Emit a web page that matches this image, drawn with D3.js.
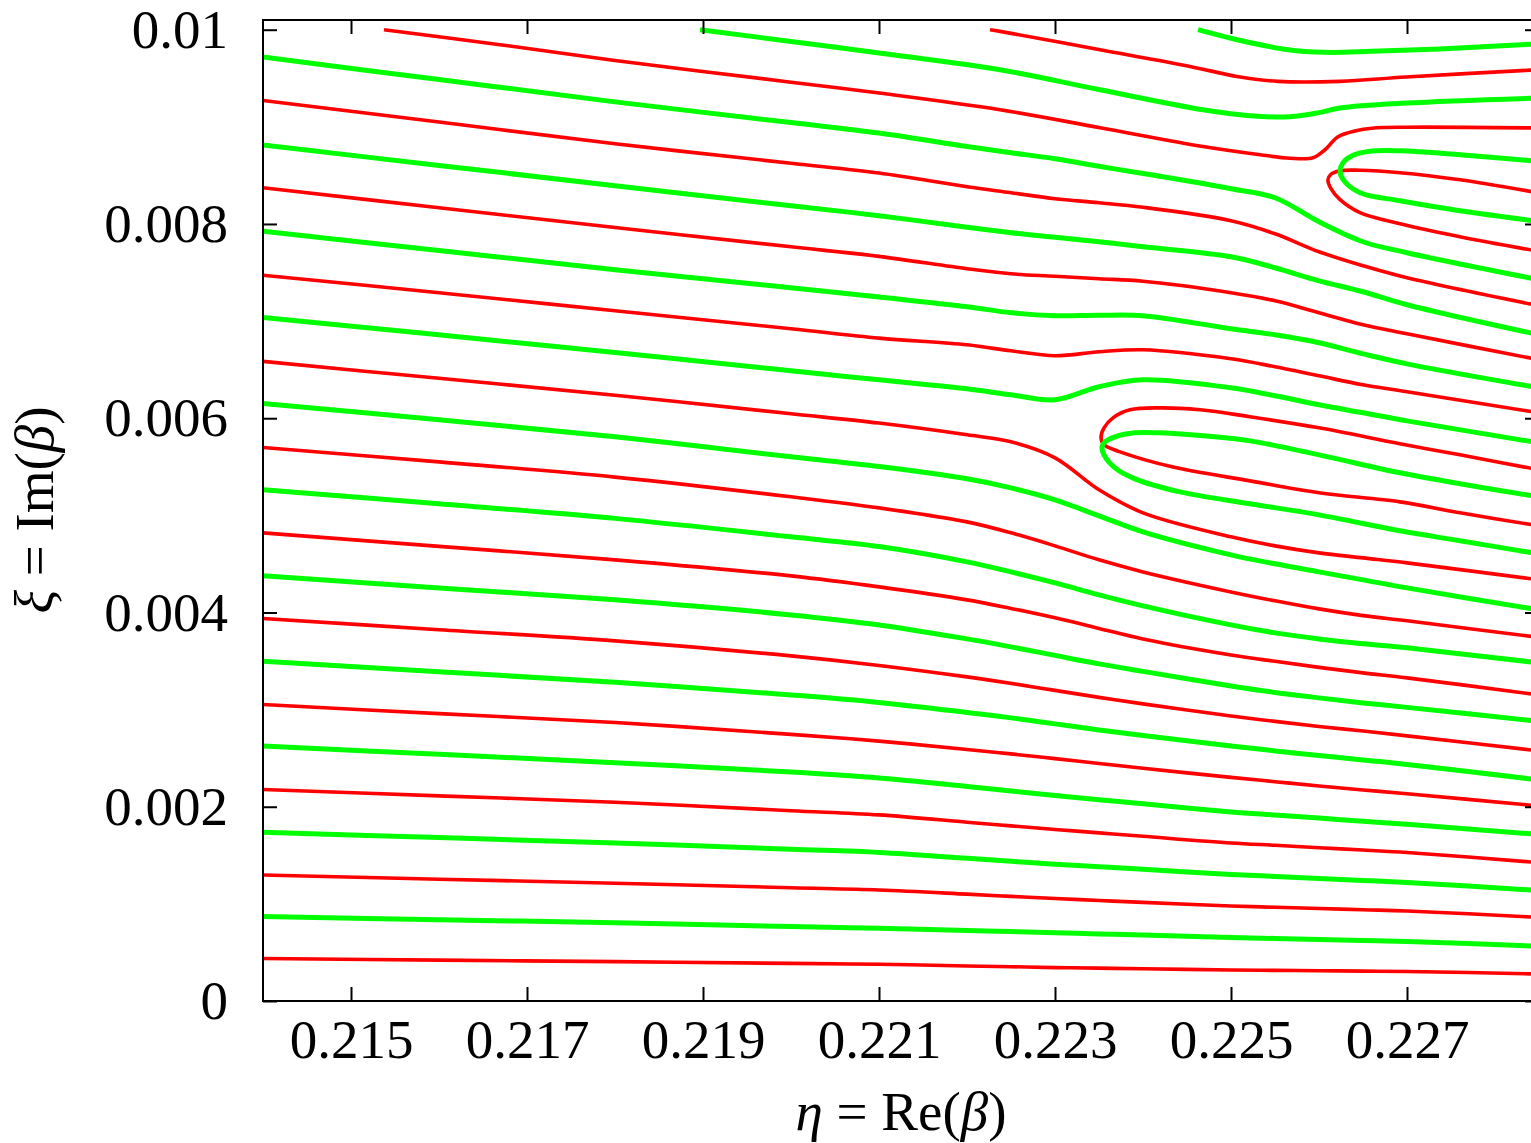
<!DOCTYPE html>
<html>
<head>
<meta charset="utf-8">
<script src="https://cdn.jsdelivr.net/npm/d3@7"></script>
<style>
  html, body { margin: 0; padding: 0; background: #fff; overflow: hidden; }
  svg { display: block; }
</style>
</head>
<body>
<div id="chart"></div>
<script>
// eta sample positions shared by the full-width curves
var etaGrid = [0.214, 0.216, 0.218, 0.220, 0.221, 0.222, 0.2225, 0.223, 0.2235, 0.224, 0.225, 0.2255, 0.226, 0.2265, 0.227, 0.2285];

// xi values of the red curves entering from the left edge (top to bottom)
var redGrid = [
  [.009271,.009049,.008826,.008625,.008524,.008383,.008322,.008260,.008219,.008172,.008033,.007899,.007714,.007570,.007446,.007158],
  [.008373,.008167,.007964,.007765,.007666,.007539,.007487,.007462,.007436,.007410,.007292,.007209,.007086,.006962,.006869,.006602],
  [.007472,.007292,.007106,.006921,.006825,.006756,.006694,.006643,.006684,.006705,.006612,.006530,.006437,.006344,.006272,.006056],
  [.006585,.006411,.006237,.006046,.005950,.005829,.005757,.005592,.005263,.005026,.004779,.004686,.004614,.004562,.004511,.004336],
  [.005698,.005551,.005394,.005191,.005077,.004933,.004820,.004686,.004542,.004418,.004212,.004120,.004037,.003968,.003914,.003744],
  [.004820,.004681,.004542,.004377,.004264,.004130,.004042,.003945,.003836,.003728,.003563,.003497,.003435,.003378,.003327,.003151],
  [.003938,.003823,.003708,.003553,.003455,.003337,.003270,.003198,.003126,.003059,.002935,.002879,.002827,.002779,.002730,.002575],
  [.003052,.002959,.002867,.002745,.002676,.002590,.002544,.002495,.002446,.002397,.002302,.002258,.002214,.002173,.002134,.002008],
  [.002178,.002112,.002046,.001959,.001916,.001841,.001803,.001766,.001731,.001696,.001627,.001603,.001578,.001554,.001529,.001425],
  [.001298,.001254,.001212,.001166,.001143,.001100,.001077,.001055,.001035,.001015,.000978,.000965,.000953,.000939,.000927,.000861],
  [.000438,.000421,.000405,.000387,.000378,.000361,.000353,.000344,.000338,.000332,.000319,.000315,.000312,.000308,.000304,.000278]
];

// xi values of the green curves entering from the left edge
var greenGrid = [
  [.009718,.009487,.009257,.009044,.008936,.008798,.008734,.008672,.008594,.008520,.008363,.008270,.008023,.007817,.007704,.007426],
  [.008812,.008603,.008394,.008188,.008085,.007966,.007910,.007863,.007817,.007765,.007662,.007549,.007415,.007302,.007168,.006859],
  [.007925,.007727,.007529,.007343,.007247,.007148,.007086,.007055,.007060,.007055,.006921,.006859,.006777,.006663,.006560,.006313],
  [.007038,.006859,.006677,.006488,.006396,.006303,.006241,.006190,.006324,.006396,.006313,.006231,.006138,.006056,.005973,.005747],
  [.006152,.005984,.005809,.005603,.005503,.005376,.005283,.005160,.004995,.004830,.004593,.004501,.004418,.004336,.004253,.004027],
  [.005265,.005119,.004969,.004779,.004679,.004521,.004418,.004305,.004181,.004068,.003872,.003790,.003728,.003677,.003636,.003481],
  [.004377,.004253,.004130,.003975,.003872,.003728,.003646,.003558,.003471,.003394,.003244,.003177,.003121,.003069,.003023,.002879],
  [.003498,.003389,.003281,.003151,.003074,.002971,.002915,.002853,.002791,.002734,.002626,.002575,.002528,.002482,.002436,.002276],
  [.002626,.002540,.002453,.002358,.002297,.002209,.002163,.002116,.002073,.002031,.001947,.001915,.001883,.001851,.001819,.001715],
  [.001737,.001683,.001627,.001562,.001529,.001469,.001438,.001408,.001382,.001356,.001303,.001282,.001262,.001241,.001220,.001138],
  [.000870,.000837,.000805,.000767,.000749,.000726,.000715,.000703,.000691,.000679,.000654,.000644,.000633,.000623,.000613,.000563]
];

// red curves starting at the top edge and the two red hairpins, as [eta, xi]
var redBranches = [
  [[0.215375,0.01],[0.216693,0.009846],[0.217977,0.009685],[0.220,0.009460],[0.221,0.009348],[0.222375,0.009176],[0.223511,0.008991],[0.224682,0.008798],[0.225330,0.008713],[0.225670,0.008677],[0.225932,0.008682],[0.226068,0.008764],[0.226216,0.008898],[0.226420,0.008960],[0.226602,0.008986],[0.227,0.008996],[0.2285,0.008988]],
  [[0.222261,0.01],[0.222375,0.009983],[0.223511,0.009794],[0.224534,0.009622],[0.225068,0.009519],[0.225534,0.009468],[0.226239,0.009468],[0.226989,0.009513],[0.2285,0.009588]],
  [[0.2285,0.008319],[0.227602,0.008455],[0.226920,0.008528],[0.226466,0.008553],[0.226239,0.008548],[0.226136,0.008512],[0.226102,0.008455],[0.226136,0.008363],[0.226239,0.008250],[0.226466,0.008116],[0.226920,0.008002],[0.227602,0.007868],[0.2285,0.007717]],
  [[0.2285,0.005469],[0.227602,0.005623],[0.226920,0.005737],[0.226,0.005901],[0.225216,0.006015],[0.224648,0.006087],[0.224193,0.006107],[0.223852,0.006087],[0.223659,0.006004],[0.223557,0.005901],[0.223523,0.005798],[0.223557,0.005726],[0.223739,0.005654],[0.224330,0.005500],[0.225216,0.005355],[0.226,0.005232],[0.226920,0.005139],[0.227602,0.005026],[0.2285,0.004892]]
];

// green curves starting at the top edge and the two green hairpins
var greenBranches = [
  [[0.218966,0.01],[0.220,0.009879],[0.221,0.009760],[0.222375,0.009588],[0.223511,0.009382],[0.224682,0.009176],[0.225216,0.009115],[0.225670,0.009104],[0.226,0.009146],[0.226239,0.009194],[0.226989,0.009245],[0.2285,0.009297]],
  [[0.224625,0.01],[0.225068,0.009897],[0.225648,0.009794],[0.226068,0.009767],[0.226602,0.009777],[0.227375,0.009802],[0.2285,0.009856]],
  [[0.2285,0.008644],[0.227602,0.008713],[0.226920,0.008754],[0.226580,0.008749],[0.226375,0.008703],[0.226273,0.008631],[0.226239,0.008538],[0.226284,0.008445],[0.226466,0.008322],[0.226920,0.008239],[0.227602,0.008136],[0.2285,0.008026]],
  [[0.2285,0.005191],[0.227602,0.005325],[0.226920,0.005438],[0.226,0.005623],[0.225216,0.005767],[0.224750,0.005814],[0.224193,0.005850],[0.223909,0.005850],[0.223682,0.005809],[0.223568,0.005757],[0.223534,0.005706],[0.223557,0.005623],[0.223682,0.005489],[0.223909,0.005376],[0.224420,0.005242],[0.225216,0.005119],[0.226,0.005005],[0.226920,0.004841],[0.227602,0.004738],[0.2285,0.004604]]
];

var xTicks = [0.215, 0.217, 0.219, 0.221, 0.223, 0.225, 0.227];
var yTicks = [0, 0.002, 0.004, 0.006, 0.008, 0.01];

// set the dimensions and margins of the graph
var margin = {top: 20, left: 263},
    width = 1276,
    height = 981;
var fontFamily = '"Liberation Serif", "Times New Roman", Times, serif';

var svg = d3.select("#chart")
  .append("svg")
    .attr("width", 1531)
    .attr("height", 1143)
  .append("g")
    .attr("transform", "translate(" + margin.left + "," + margin.top + ")");

var x = d3.scaleLinear().domain([0.214, 0.2285]).range([0, width]);
var y = d3.scaleLinear().domain([0, 0.0101]).range([height, 0]);

svg.append("clipPath").attr("id", "plotclip")
  .append("rect").attr("width", width).attr("height", height);

var line = d3.line()
  .x(function(d) { return x(d[0]); })
  .y(function(d) { return y(d[1]); })
  .curve(d3.curveCatmullRom.alpha(0.5));

function onGrid(vals) {
  return etaGrid.map(function(e, i) { return [e, vals[i]]; });
}

var plot = svg.append("g").attr("clip-path", "url(#plotclip)");

var reds = redGrid.map(onGrid).concat(redBranches);
var greens = greenGrid.map(onGrid).concat(greenBranches);

plot.selectAll("path.red")
  .data(reds)
  .enter().append("path")
    .attr("class", "red")
    .attr("d", line)
    .attr("fill", "none")
    .attr("stroke", "#ff0000")
    .attr("stroke-width", 3.6);

plot.selectAll("path.green")
  .data(greens)
  .enter().append("path")
    .attr("class", "green")
    .attr("d", line)
    .attr("fill", "none")
    .attr("stroke", "#00ff00")
    .attr("stroke-width", 5);

// axes with inward ticks on all four sides
function styleAxis(g) {
  g.select(".domain").remove();
  g.selectAll("line").attr("stroke-width", 2);
  g.attr("font-family", fontFamily).attr("font-size", 55);
  g.selectAll("text").attr("fill", "#000");
}

svg.append("g")
    .attr("transform", "translate(0," + height + ")")
    .call(d3.axisBottom(x).tickValues(xTicks).tickFormat(d3.format(".3f"))
      .tickSizeInner(-14).tickSizeOuter(0).tickPadding(18))
    .call(styleAxis);

svg.append("g")
    .call(d3.axisTop(x).tickValues(xTicks).tickFormat("")
      .tickSizeInner(-14).tickSizeOuter(0))
    .call(styleAxis);

svg.append("g")
    .call(d3.axisLeft(y).tickValues(yTicks)
      .tickFormat(function(d) { return d === 0 ? "0" : d3.format(".3~f")(d); })
      .tickSizeInner(-14).tickSizeOuter(0).tickPadding(35))
    .call(styleAxis);

svg.append("g")
    .attr("transform", "translate(" + width + ",0)")
    .call(d3.axisRight(y).tickValues(yTicks).tickFormat("")
      .tickSizeInner(-14).tickSizeOuter(0))
    .call(styleAxis);

svg.append("rect")
  .attr("width", width)
  .attr("height", height)
  .attr("fill", "none")
  .attr("stroke", "#000")
  .attr("stroke-width", 2);

// axis titles
var xt = svg.append("text")
  .attr("x", 901 - margin.left)
  .attr("y", 1130 - margin.top)
  .attr("text-anchor", "middle")
  .attr("font-family", fontFamily)
  .attr("font-size", 55);
xt.append("tspan").attr("font-style", "italic").text("η");
xt.append("tspan").text(" = Re(");
xt.append("tspan").attr("font-style", "italic").text("β");
xt.append("tspan").text(")");

var yt = svg.append("text")
  .attr("transform", "translate(" + (53 - margin.left) + "," + (510 - margin.top) + ") rotate(-90)")
  .attr("text-anchor", "middle")
  .attr("font-family", fontFamily)
  .attr("font-size", 55);
yt.append("tspan").attr("font-style", "italic").text("ξ");
yt.append("tspan").text(" = Im(");
yt.append("tspan").attr("font-style", "italic").text("β");
yt.append("tspan").text(")");
</script>
</body>
</html>
